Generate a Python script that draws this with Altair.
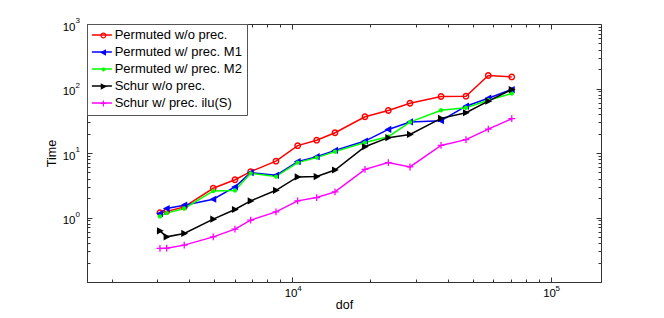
import altair as alt
import pandas as pd

# ---------------- data ----------------
dof = [3076, 3265, 3819, 4946, 6001, 6902, 8648, 10493, 12430, 14633,
       19110, 23530, 28540, 37630, 47000, 57340, 70660]

series_names = ["Permuted w/o prec.", "Permuted w/ prec. M1", "Permuted w/ prec. M2",
                "Schur w/o prec.", "Schur w/ prec. ilu(S)"]
series_keys = ["a", "b", "c", "d", "e"]  # ordering keys for the marker overlay

time_perm_noprec = [1.19, 1.24, 1.46, 2.84, 3.85, 5.14, 7.48, 13.0, 15.8, 20.6,
                    36.5, 45.6, 59.1, 75.1, 75.9, 159, 151]
time_perm_m1 = [1.15, 1.38, 1.55, 1.92, 2.97, 4.96, 4.51, 7.35, 8.78, 10.98,
                15.3, 23.2, 30.3, 31.6, 53.2, 70.7, 96.4]
time_perm_m2 = [1.04, 1.17, 1.38, 2.58, 2.62, 4.84, 4.31, 7.10, 8.48, 10.5,
                14.5, 17.9, 30.1, 46.1, 50.2, 65.9, 83.6]
time_schur_noprec = [0.621, 0.501, 0.566, 0.942, 1.33, 1.81, 2.64, 4.25, 4.31, 5.45,
                     12.5, 17.3, 19.4, 34.4, 42.1, 63.6, 96.4]
time_schur_ilu = [0.332, 0.335, 0.373, 0.501, 0.659, 0.909, 1.22, 1.81, 2.04, 2.49,
                  5.58, 7.10, 6.07, 13.1, 16.1, 23.4, 34.0]

series_values = [time_perm_noprec, time_perm_m1, time_perm_m2, time_schur_noprec, time_schur_ilu]
series_colors = ["#ff0000", "#0000ff", "#00ff00", "#000000", "#ff00ff"]

x_domain = [1606, 156500]
y_domain = [0.1, 1000]
x_major_ticks = [10000, 100000]
x_label_base = ["10", "10"]
x_label_exp = ["4", "5"]
x_minor_ticks = [2000, 3000, 4000, 5000, 6000, 7000, 8000, 9000,
                 20000, 30000, 40000, 50000, 60000, 70000, 80000, 90000]
y_major_ticks = [1, 10, 100, 1000]
y_label_base = ["10", "10", "10", "10"]
y_label_exp = ["0", "1", "2", "3"]
y_minor_ticks = [0.2, 0.3, 0.4, 0.5, 0.6, 0.7, 0.8, 0.9,
                 2, 3, 4, 5, 6, 7, 8, 9, 20, 30, 40, 50, 60, 70, 80, 90,
                 200, 300, 400, 500, 600, 700, 800, 900]

# ---------------- styling ----------------
FONT = "Liberation Sans"
W, H = 514, 258
AX = "#333333"

# filled marker paths (unit square, scaled by sqrt(size)/2)
marker_paths = [
    # ring (open circle)
    "M0.85,0A0.85,0.85 0 1,1 -0.85,0A0.85,0.85 0 1,1 0.85,0Z"
    "M0.5,0A0.5,0.5 0 1,0 -0.5,0A0.5,0.5 0 1,0 0.5,0Z",
    # triangle left
    "M-0.95,0L0.75,-0.9L0.75,0.9Z",
    # small dot
    "M0.55,0A0.55,0.55 0 1,1 -0.55,0A0.55,0.55 0 1,1 0.55,0Z",
    # triangle right
    "M0.95,0L-0.75,-0.9L-0.75,0.9Z",
    # thin plus
    "M-0.85,-0.16L-0.16,-0.16L-0.16,-0.85L0.16,-0.85L0.16,-0.16L0.85,-0.16"
    "L0.85,0.16L0.16,0.16L0.16,0.85L-0.16,0.85L-0.16,0.16L-0.85,0.16Z",
]

rows = []
for name, key, vals in zip(series_names, series_keys, series_values):
    for d, t in zip(dof, vals):
        rows.append({"dof": d, "time": t, "series": name, "mkey": key})
df = pd.DataFrame(rows)


def label_expr(values, labels):
    expr = "''"
    for v, l in reversed(list(zip(values, labels))):
        expr = f"datum.value == {v} ? '{l}' : " + expr
    return expr


xs = alt.Scale(type="log", domain=x_domain, nice=False)
ys = alt.Scale(type="log", domain=y_domain, nice=False)
stroke_scale = alt.Scale(domain=series_names, range=series_colors)

line_legend = alt.Legend(
    title=None, orient="top-left", offset=0, padding=4.5,
    rowPadding=3.0, symbolType="M-2,0L2,0", symbolSize=100, symbolStrokeWidth=1.5,
    symbolOffset=3.9, labelOffset=6.3,
    labelFont=FONT, labelFontSize=13, labelColor="#000000",
    strokeColor="#555555", fillColor="#ffffff",
)
marker_legend = alt.Legend(
    title=None, orient="none", legendX=0, legendY=0.5, padding=4.5,
    rowPadding=3.0, symbolSize=49, symbolStrokeWidth=0,
    symbolOffset=5.4, labelOffset=6.3, labelExpr="''",
    labelFont=FONT, labelFontSize=13, labelOpacity=0,
)

base_axis = dict(grid=False, labelFont=FONT, labelColor="#000000",
                 titleFont=FONT, titleFontSize=12.5, titleColor="#000000",
                 titleFontWeight="normal", domainColor=AX, tickColor=AX,
                 labelOverlap=False, labelFlush=False)

lines = alt.Chart(df).mark_line(strokeWidth=1.5).encode(
    x=alt.X("dof:Q", scale=xs, axis=alt.Axis(
        orient="bottom", values=x_major_ticks, ticks=False, title="dof",
        labelExpr=label_expr(x_major_ticks, x_label_base), labelFontSize=11.5,
        labelPadding=5, labelOffset=-1.7,
        titleBaseline="alphabetic", titleY=26, **base_axis)),
    y=alt.Y("time:Q", scale=ys, axis=alt.Axis(
        orient="left", values=y_major_ticks, ticks=False, title="Time",
        labelExpr=label_expr(y_major_ticks, y_label_base), labelFontSize=11.5,
        labelPadding=12, labelOffset=3,
        titleX=-36, titleY=H / 2, titleBaseline="middle", **base_axis)),
    stroke=alt.Stroke("series:N", scale=stroke_scale, legend=line_legend),
)

points = alt.Chart(df).mark_point(filled=True, size=64, opacity=1).encode(
    x=alt.X("dof:Q", scale=xs, axis=alt.Axis(
        orient="top", offset=-H, values=x_major_ticks, labels=False, domain=False,
        tickSize=5, title=None, **base_axis)),
    y=alt.Y("time:Q", scale=ys, axis=alt.Axis(
        orient="right", offset=-W, values=y_major_ticks, labels=False, domain=False,
        tickSize=5, title=None, **base_axis)),
    fill=alt.Fill("mkey:N", scale=alt.Scale(range=series_colors), legend=marker_legend),
    shape=alt.Shape("mkey:N", scale=alt.Scale(range=marker_paths), legend=marker_legend),
)

# superscript exponents of the tick labels
sup = alt.Chart(df).mark_point(opacity=0).encode(
    x=alt.X("dof:Q", scale=xs, axis=alt.Axis(
        orient="bottom", values=x_major_ticks, ticks=False, domain=False, title=None,
        labelExpr=label_expr(x_major_ticks, x_label_exp), labelFontSize=8,
        labelPadding=2, labelOffset=6.6, **base_axis)),
    y=alt.Y("time:Q", scale=ys, axis=alt.Axis(
        orient="left", values=y_major_ticks, ticks=False, domain=False, title=None,
        labelExpr=label_expr(y_major_ticks, y_label_exp), labelFontSize=8,
        labelPadding=12, labelAlign="left", labelOffset=-3.5, **base_axis)),
)


def tick_layer(xorient, xoff, xvals, yorient, yoff, yvals, size):
    return alt.Chart(df).mark_point(opacity=0).encode(
        x=alt.X("dof:Q", scale=xs, axis=alt.Axis(
            orient=xorient, offset=xoff, values=xvals, labels=False, domain=False,
            tickSize=size, title=None, **base_axis)),
        y=alt.Y("time:Q", scale=ys, axis=alt.Axis(
            orient=yorient, offset=yoff, values=yvals, labels=False, domain=False,
            tickSize=size, title=None, **base_axis)),
    )


minor_in = tick_layer("top", -H, x_minor_ticks, "right", -W, y_minor_ticks, 3)
major_out = tick_layer("bottom", -H, x_major_ticks, "left", -W, y_major_ticks, 5)
minor_out = tick_layer("bottom", -H, x_minor_ticks, "left", -W, y_minor_ticks, 3)

chart = alt.layer(lines, points, sup, minor_in, major_out, minor_out).resolve_axis(
    x="independent", y="independent"
).properties(
    width=W, height=H,
    padding={"left": 79, "top": 16, "right": 55, "bottom": 28},
    autosize=alt.AutoSizeParams(type="none"),
).configure_view(stroke=AX, strokeWidth=1)

chart.save("out.html", embed_options={"renderer": "svg", "actions": False})
